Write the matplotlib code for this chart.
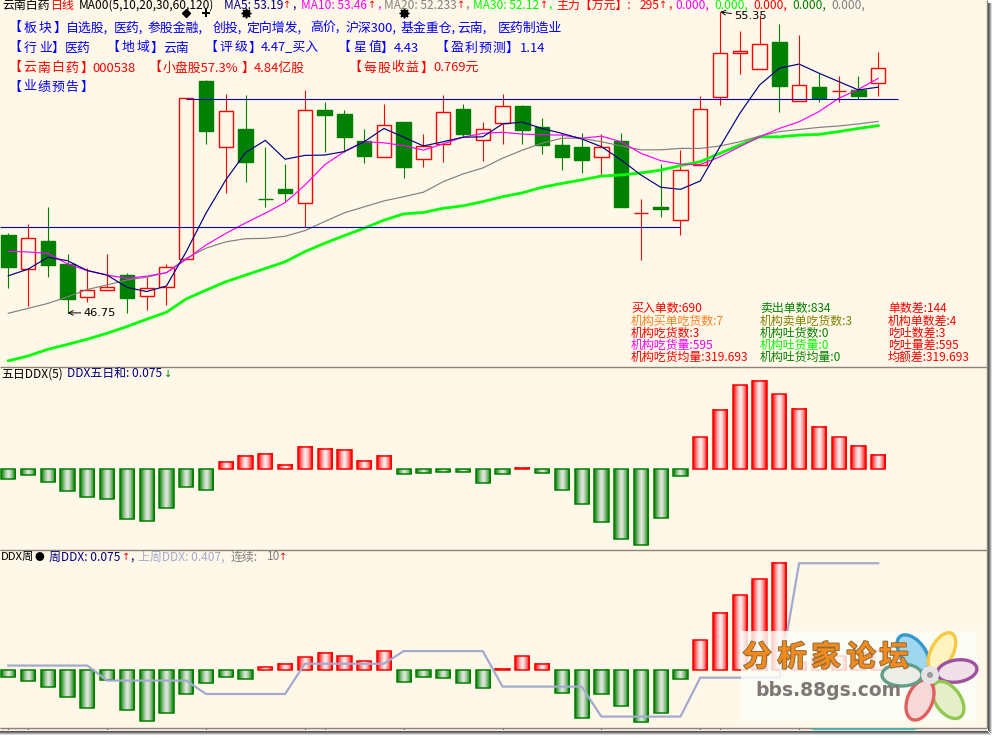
# -*- coding: utf-8 -*-
import math
import numpy as np
import matplotlib
matplotlib.use('Agg')
import matplotlib.pyplot as plt
import matplotlib.patheffects as pe
from matplotlib.patches import Ellipse, Rectangle

plt.rcParams['font.family'] = ['Noto Sans CJK SC', 'DejaVu Sans']

# daily candles
opens = [48.98, 48.00, 48.80, 48.15, 47.20, 47.40, 47.83, 47.22, 47.48, 48.30,
         53.38, 51.50, 52.00, 50.01, 50.29, 49.88, 52.54, 52.43, 51.66, 51.21,
         52.20, 51.14, 51.58, 52.58, 51.68, 52.17, 52.66, 52.06, 51.55, 51.49,
         51.20, 51.66, 49.60, 49.78, 49.40, 50.98, 52.91, 54.17, 53.71, 54.49,
         52.80, 53.20, 53.08, 53.12, 53.31]
closes = [48.07, 48.88, 48.13, 47.16, 47.40, 47.48, 47.18, 47.45, 48.05, 52.88,
          51.96, 52.51, 51.07, 50.00, 50.18, 52.54, 52.40, 51.78, 51.24, 52.11,
          50.93, 51.51, 52.48, 51.87, 52.00, 52.65, 51.98, 51.56, 51.21, 51.13,
          51.48, 49.78, 49.60, 49.73, 50.82, 52.57, 54.17, 54.22, 54.42, 53.24,
          53.25, 52.90, 53.08, 52.96, 53.74]
highs = [49.03, 49.29, 49.77, 48.43, 48.02, 48.43, 47.89, 47.78, 48.15, 52.88,
         53.40, 53.00, 52.98, 51.49, 51.00, 53.12, 52.78, 52.55, 52.00, 52.72,
         52.20, 51.86, 52.98, 52.72, 52.20, 53.00, 52.69, 52.32, 51.88, 51.88,
         51.85, 51.88, 50.00, 51.00, 51.40, 52.95, 55.35, 54.80, 55.26, 55.00,
         54.69, 53.60, 53.52, 53.52, 54.20]
lows = [47.47, 46.96, 47.78, 46.75, 47.07, 47.40, 46.76, 46.84, 46.98, 48.30,
        51.58, 50.18, 50.50, 49.78, 49.95, 49.20, 51.35, 51.36, 51.04, 51.21,
        50.61, 50.93, 51.07, 51.78, 51.10, 51.58, 51.58, 51.29, 50.83, 50.75,
        50.69, 49.78, 48.26, 49.49, 48.98, 50.98, 52.69, 53.58, 53.71, 52.50,
        52.80, 52.78, 52.78, 52.85, 52.95]

ma5 = [47.81, 48.00, 48.34, 48.24, 47.96, 47.83, 47.48, 47.36, 47.52, 48.50,
       49.60, 50.55, 51.33, 51.68, 51.14, 51.25, 51.26, 51.36, 51.64, 52.02,
       51.77, 51.52, 51.64, 51.77, 51.78, 52.15, 52.20, 52.02, 51.88, 51.72,
       51.50, 51.12, 50.69, 50.34, 50.28, 50.52, 51.50, 52.45, 53.26, 53.74,
       53.86, 53.60, 53.36, 53.12, 53.20]
ma10 = [48.51, 48.49, 48.45, 48.15, 47.96, 47.83, 47.74, 47.80, 47.90, 48.28,
        48.69, 49.02, 49.32, 49.60, 49.90, 50.40, 50.98, 51.36, 51.64, 51.61,
        51.53, 51.40, 51.58, 51.77, 51.88, 51.91, 51.86, 51.84, 51.83, 51.74,
        51.80, 51.64, 51.31, 51.10, 51.00, 50.99, 51.21, 51.50, 51.78, 52.02,
        52.21, 52.50, 52.88, 53.14, 53.45]
ma20 = [46.74, 46.88, 47.02, 47.21, 47.42, 47.55, 47.69, 47.77, 47.90, 48.31,
        48.60, 48.78, 48.87, 48.88, 48.94, 49.10, 49.36, 49.61, 49.78, 49.95,
        50.07, 50.20, 50.50, 50.72, 50.89, 51.17, 51.40, 51.60, 51.74, 51.74,
        51.64, 51.52, 51.41, 51.41, 51.45, 51.45, 51.52, 51.64, 51.80, 51.93,
        51.99, 52.05, 52.09, 52.15, 52.22]
ma30 = [45.38, 45.52, 45.71, 45.85, 46.00, 46.17, 46.36, 46.57, 46.77, 47.15,
        47.40, 47.64, 47.83, 48.02, 48.21, 48.50, 48.74, 48.96, 49.17, 49.40,
        49.58, 49.62, 49.74, 49.81, 49.93, 50.07, 50.18, 50.34, 50.45, 50.55,
        50.66, 50.69, 50.75, 50.83, 50.96, 51.07, 51.31, 51.55, 51.78, 51.78,
        51.83, 51.85, 51.93, 52.02, 52.10]

# five day ddx
ddx5 = [-0.050, -0.028, -0.066, -0.114, -0.146, -0.157, -0.264, -0.274, -0.205, -0.093,
        -0.109, 0.039, 0.071, 0.082, 0.023, 0.119, 0.109, 0.103, 0.044, 0.071,
        -0.023, -0.018, -0.012, -0.012, -0.071, -0.023, 0.008, -0.018, -0.109, -0.183,
        -0.280, -0.371, -0.403, -0.258, -0.034, 0.171, 0.316, 0.449, 0.471, 0.401,
        0.321, 0.225, 0.171, 0.123, 0.075]

# weekly ddx and last week's value
ddx_week = [-0.024, -0.039, -0.062, -0.100, -0.142, -0.035, -0.152, -0.191, -0.161, -0.092,
            -0.047, -0.024, -0.032, 0.011, 0.023, 0.049, 0.065, 0.053, 0.034, 0.072,
            -0.043, -0.024, -0.028, -0.047, -0.066, 0.004, 0.053, 0.023, -0.085, -0.180,
            -0.092, -0.134, -0.195, -0.161, -0.032, 0.114, 0.217, 0.285, 0.346, 0.407,
            0.030, 0.046, 0.053, 0.065, 0.075]
ddx_last_week = [0.018] * 5 + [-0.039] * 5 + [-0.090] * 5 + [0.025] * 5 + [0.073] * 5 \
    + [-0.062] * 5 + [-0.176] * 5 + [-0.028] * 5 + [0.407] * 5

level_high = 52.85
level_low = 49.20
week_ticks = [0, 1, 5, 10, 15, 16, 20, 25, 30, 35, 36, 40]
signal_diamond = [9]
signal_plus = [10]
signal_star = [12, 20]

BG = '#FFF8E8'
RED = '#FF0000'
GREEN = '#008000'
LIME = '#00FF00'
NAVY = '#000080'
BLUE = '#0000FF'
MAGENTA = '#FF00FF'
GRAY = '#808080'
LIGHT = '#A3AACF'
PX = 0.72

W, H = 994, 738
fig = plt.figure(figsize=(W / 100, H / 100), dpi=100, facecolor='white')
x = np.arange(len(opens))
xlim = (-8.3 / 19.77, (W - 8.3) / 19.77)


def panel(top, bottom, ylim):
    ax = fig.add_axes([0, 1 - bottom / H, 1, (bottom - top) / H])
    ax.set_xlim(*xlim)
    ax.set_ylim(*ylim)
    ax.axis('off')
    return ax


def grad_bars(ax, values):
    # bars shaded dark at the sides and pale in the middle
    t = np.abs(np.linspace(-1, 1, 15)) ** 1.4
    red = np.zeros((1, 15, 3))
    red[0, :, 0] = 1.0
    red[0, :, 1] = 0.92 * (1 - t)
    red[0, :, 2] = 0.92 * (1 - t)
    green = np.zeros((1, 15, 3))
    green[0, :, 0] = 0.88 * (1 - t)
    green[0, :, 1] = 0.90 * (1 - t) + 0.5 * t
    green[0, :, 2] = 0.86 * (1 - t)
    for i, v in zip(x, values):
        img = red if v > 0 else green
        ax.imshow(img, extent=(i - 0.36, i + 0.36, 0, v), aspect='auto',
                  interpolation='bilinear', zorder=2)
        ax.bar(i, v, width=0.72, facecolor='none', edgecolor=RED if v > 0 else GREEN,
               linewidth=1.1, zorder=3)
    ax.set_xlim(*xlim)


# price panel
ax1 = panel(0, 362, (55.69 - 362 / 35, 55.69))
for i in x:
    up = closes[i] >= opens[i]
    col = RED if up else GREEN
    top = max(opens[i], closes[i])
    bot = min(opens[i], closes[i])
    ax1.vlines(i, top, highs[i], color=col, lw=PX * 1.1, zorder=2)
    ax1.vlines(i, lows[i], bot, color=col, lw=PX * 1.1, zorder=2)
    ax1.bar(i, top - bot, bottom=bot, width=0.72 if up else 0.74,
            facecolor=BG if up else col, edgecolor=col, linewidth=1.0, zorder=3)
ax1.plot(x, ma30, color=LIME, lw=2.0, zorder=4)
ax1.plot(x, ma20, color=GRAY, lw=0.85, zorder=4)
ax1.plot(x, ma10, color=MAGENTA, lw=0.85, zorder=5)
ax1.plot(x, ma5, color=NAVY, lw=0.85, zorder=6)
ax1.hlines(level_high, 9, 45, color='#0000C0', lw=0.8, zorder=7)
ax1.hlines(level_low, xlim[0], 34, color='#0000C0', lw=0.8, zorder=7)
ax1.plot(signal_diamond, [55.32] * len(signal_diamond), linestyle='none', marker='D',
         color='black', ms=4, zorder=8)
ax1.plot(signal_plus, [55.32] * len(signal_plus), linestyle='none', marker='P',
         color='black', ms=6, mew=0, zorder=8)
ax1.plot(signal_star, [55.32] * len(signal_star), linestyle='none', marker=(8, 1, 0),
         color='black', ms=7, zorder=8)

ax1.annotate('55.35', xy=(36, 55.35), xytext=(10.2, -3.2), textcoords='offset points',
             fontsize=8.2, family='DejaVu Sans', va='center', ha='left', color='black', zorder=9,
             arrowprops=dict(arrowstyle='->', lw=0.7, color='black', shrinkA=0, shrinkB=0))
ax1.annotate('46.75', xy=(3, 46.75), xytext=(11.5, 0), textcoords='offset points',
             fontsize=8.2, family='DejaVu Sans', va='center', ha='left', color='black', zorder=9,
             arrowprops=dict(arrowstyle='->', lw=0.7, color='black', shrinkA=0, shrinkB=0))

# five day panel
ax2 = panel(368, 550, (-(550 - 469.3) / 187, (469.3 - 368) / 187))
grad_bars(ax2, ddx5)

# weekly panel
ax3 = panel(551, 730, (-(730 - 670.3) / 263, (670.3 - 551) / 263))
grad_bars(ax3, ddx_week)
ax3.plot(x, ddx_last_week, color=LIGHT, lw=1.6, zorder=4)
ax3.vlines(week_ticks, 0, 2.2 / 179, color='#555555', lw=0.7,
           transform=ax3.get_xaxis_transform(), zorder=5)

# everything else in pixel coordinates
ov = fig.add_axes([0, 0, 1, 1], zorder=10)
ov.set_xlim(0, W)
ov.set_ylim(H, 0)
ov.axis('off')
bg_ax = fig.add_axes([0, 0, 1, 1], zorder=-1)
bg_ax.set_xlim(0, W)
bg_ax.set_ylim(H, 0)
bg_ax.axis('off')
bg_ax.add_patch(Rectangle((0, 0), 986.5, 728, facecolor=BG, edgecolor='none'))
bg_ax.add_patch(Rectangle((0, 728), 986.5, 3, facecolor='#F3EEE4', edgecolor='none'))

FRAME = '#8C8478'
ov.hlines([367.3, 550, 727.5], 0, 987, color=FRAME, lw=1.0)
ov.vlines(986.8, 0, 728, color=FRAME, lw=1.0)
ov.hlines(729, 812, 915, color='#30D0D8', lw=1.0)
for off, col in [(0, '#555555'), (1, '#777777'), (2, '#AAAAAA'), (3, '#DDDDDD')]:
    ov.add_patch(Rectangle((0, 731 + off), 988 + off, 1, facecolor=col, edgecolor='none'))
    ov.add_patch(Rectangle((988 + off, 3), 1, 728 + off, facecolor=col, edgecolor='none'))


def label(px, py, s, color='black', size=9.0, **kw):
    ov.text(px, py, s, color=color, fontsize=size, va='center', ha='left', **kw)


def arrow(centre_x, py, s):
    # narrow arrow glyph, as in the terminal font
    col = GREEN if s == '↓' else RED
    ov.text(centre_x, py, s, color=col, fontsize=7, family='DejaVu Sans', va='center', ha='center')


def bracket(left, right, py, inner, pitch, color):
    # the bracketed tags are spaced wider than normal text
    label(left - 6.5, py, '【', color, size=9.3)
    label(right - 6.5, py, '】', color, size=9.3)
    if pitch is None:
        label(left + 8, py, inner, color, size=9.3)
    else:
        for n, ch in enumerate(inner):
            ov.text(left + 8 + (n + 0.5) * pitch, py, ch, color=color, fontsize=9.3,
                    va='center', ha='center')


header = [(2, '云南白药', 'black'), (51, '日线', RED), (79, 'MA00(5,10,20,30,60,120)', 'black'),
          (224, 'MA5: 53.19', NAVY), (292, ',', NAVY),
          (301, 'MA10: 53.46', MAGENTA), (377, ',', MAGENTA),
          (384, 'MA20: 52.233', GRAY), (465.5, ',', GRAY),
          (473, 'MA30: 52.12', LIME), (548, ',', LIME),
          (556, '主力【万元】:', RED), (640, '295', RED), (668, ',', RED),
          (675, '0.000,', MAGENTA), (714, '0.000,', LIME), (753, '0.000,', RED),
          (792, '0.000,', GREEN), (831, '0.000,', GRAY)]
for px, s, col in header:
    label(px, 5.2, s, col, size=8.6)
for cx in [286.7, 372, 461, 544, 663.5]:
    arrow(cx, 5.2, '↑')

line1 = [(66, '自选股,'), (113.7, '医药,'), (148, '参股金融,'), (213, '创投,'), (246.7, '定向增发,'),
         (310, '高价,'), (345, '沪深300,'), (400.7, '基金重仓,'), (457, '云南,'), (498, '医药制造业')]
line2 = [(65, '医药'), (163, '云南'), (261, '4.47_买入'), (394, '4.43'), (520, '1.14')]
line3 = [(92, '000538'), (254, '4.84亿股'), (433, '0.769元')]
for px, s in line1:
    label(px, 28, s, BLUE, size=9.3)
for px, s in line2:
    label(px, 48, s, BLUE, size=9.3)
for px, s in line3:
    label(px, 68, s, RED, size=9.3)

bracket(14.7, 60, 28, '板块', 15, BLUE)
bracket(14.7, 58, 48, '行业', 15, BLUE)
bracket(112.7, 156.7, 48, '地域', 15, BLUE)
bracket(210.7, 255, 48, '评级', 15, BLUE)
bracket(344, 387.3, 48, '星值', 15, BLUE)
bracket(441.7, 511.7, 48, '盈利预测', 14, BLUE)
bracket(15, 87, 68, '云南白药', 14, RED)
bracket(155, 248, 68, '小盘股57.3%', None, RED)
bracket(355, 427, 68, '每股收益', 14, RED)
bracket(15, 87, 87, '业绩预告', 14, BLUE)

ORANGE = '#FF8020'
OLIVE = '#808000'
stats_col1 = [('买入单数:690', RED), ('机构买单吃货数:7', ORANGE), ('机构吃货数:3', RED),
              ('机构吃货量:595', MAGENTA), ('机构吃货均量:319.693', RED)]
stats_col2 = [('卖出单数:834', GREEN), ('机构卖单吃货数:3', OLIVE), ('机构吐货数:0', GREEN),
              ('机构吐货量:0', LIME), ('机构吐货均量:0', GREEN)]
stats_col3 = [('单数差:144', RED), ('机构单数差:4', RED), ('吃吐数差:3', RED),
              ('吃吐量差:595', RED), ('均额差:319.693', RED)]
for px, col_items in [(631, stats_col1), (760, stats_col2), (888, stats_col3)]:
    for py, (s, col) in zip([308.7, 321.2, 333.4, 345.6, 357.7], col_items):
        label(px, py, s, col, size=8.6)

label(1, 373.7, '五日DDX(5)', 'black', size=8.6)
label(67, 373.7, 'DDX五日和: 0.075', NAVY, size=8.6)
arrow(167.7, 373.7, '↓')

label(1, 557, 'DDX周', 'black', size=8.2)
label(34.5, 557, '●', 'black', size=7)
label(49, 557, '周DDX: 0.075', NAVY, size=8.6)
arrow(125.7, 557, '↑')
label(130, 557, ',', NAVY, size=8.6)
label(138, 557, '上周DDX: 0.407,', LIGHT, size=8.6)
label(231, 557, '连续:', GRAY, size=8.6)
label(267, 557, '10', GRAY, size=8.6)
arrow(283.3, 557, '↑')

# forum watermark
ov.add_patch(Rectangle((741, 631), 236, 90, facecolor='#FBFFF8', alpha=0.82, edgecolor='none'))
for cx, ch in zip([757, 792, 826, 861, 894], '分析家论坛'):
    ov.text(cx, 657, ch, color='#F28A1E', fontsize=21, fontweight='bold', ha='center', va='center',
            path_effects=[pe.withStroke(linewidth=1.4, foreground='#8A6A3A')])
ov.text(755, 691, 'bbs.88gs.com', color='#7F7775', fontsize=13.5, fontweight='bold',
        family='DejaVu Sans', ha='left', va='center')

centre = (930, 675)
petals = [(913, 653, 42, 24, '#3399CC', '#9FD8EE'), (942, 652, 42, 22, '#F8C840', '#FFF4C0'),
          (957, 671, 40, 22, '#A050A0', '#F0E0E8'), (948, 700, 42, 25, '#90C850', '#E4EEC8'),
          (920, 700, 42, 25, '#E06060', '#F6D8D8'), (902, 675, 40, 22, '#60A088', '#EDEDE8')]
for cx, cy, w, h, edge, face in petals:
    angle = math.degrees(math.atan2(cy - centre[1], cx - centre[0]))
    ov.add_patch(Ellipse((cx, cy), w, h, angle=angle, facecolor=face, edgecolor=edge, lw=2.4))
ov.add_patch(Ellipse(centre, 18, 18, facecolor='#E4E4E4', edgecolor='none'))
ov.add_patch(Ellipse(centre, 6, 6, facecolor='#999999', edgecolor='none'))

fig.savefig('out.png', dpi=100)
